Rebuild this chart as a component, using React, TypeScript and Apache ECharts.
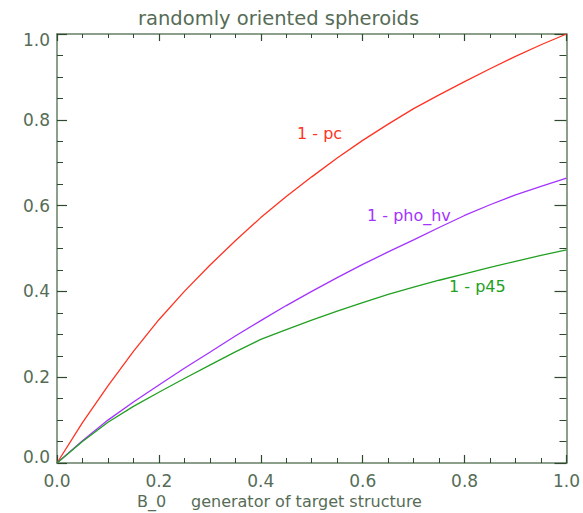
import React, { useEffect, useRef } from "react";
import * as echarts from "echarts";

const xValues = [0, 0.05, 0.1, 0.15, 0.2, 0.25, 0.3, 0.35, 0.4, 0.45, 0.5, 0.55, 0.6, 0.65, 0.7, 0.75, 0.8, 0.85, 0.9, 0.95, 1.0];
const pcValues = [0, 0.094, 0.18, 0.26, 0.334, 0.4, 0.461, 0.518, 0.572, 0.621, 0.667, 0.711, 0.752, 0.79, 0.826, 0.858, 0.889, 0.919, 0.948, 0.975, 1.0];
const phoHvValues = [0, 0.052, 0.1, 0.142, 0.182, 0.221, 0.258, 0.296, 0.332, 0.367, 0.4, 0.432, 0.463, 0.492, 0.52, 0.549, 0.577, 0.602, 0.625, 0.645, 0.664];
const p45Values = [0, 0.05, 0.095, 0.132, 0.165, 0.197, 0.228, 0.259, 0.288, 0.311, 0.333, 0.354, 0.374, 0.393, 0.41, 0.426, 0.441, 0.456, 0.47, 0.484, 0.497];
const seriesNames = ["1 - pc", "1 - pho_hv", "1 - p45"];
const titleText = "randomly oriented spheroids";
const xTitleParts = ["B_0", "generator of target structure"];

const TEXT = "#566c56";
const AXIS = "#657f65";
const TICK = "#2e4a2e";
const RED = "#ff3322";
const PURPLE = "#a433ff";
const GREEN = "#22a022";
const FONT = "DejaVu Sans";

function pairs(ys: number[]) {
  return xValues.map((x, i) => [x, ys[i]]);
}

function axisBase(pos: string, showLabel: boolean, major: number, minor: number, isX: boolean) {
  return {
    type: "value",
    position: pos,
    min: 0,
    max: 1,
    interval: 0.2,
    axisLine: { show: true, onZero: false, lineStyle: { color: AXIS, width: 1.5 } },
    axisTick: { show: true, inside: true, length: major, lineStyle: { color: TICK, width: 1.2 } },
    minorTick: { show: true, splitNumber: 4, length: minor, lineStyle: { color: TICK, width: 1 } },
    splitLine: { show: false },
    minorSplitLine: { show: false },
    axisLabel: isX
      ? {
          show: showLabel,
          formatter: (v: number) => v.toFixed(1),
          fontSize: 17,
          fontFamily: FONT,
          color: TEXT,
          margin: 9,
        }
      : {
          show: showLabel,
          formatter: (v: number) => v.toFixed(1),
          fontSize: 17,
          lineHeight: 12,
          fontFamily: FONT,
          color: TEXT,
          margin: 7,
          verticalAlignMinLabel: "bottom",
          verticalAlignMaxLabel: "top",
        },
  };
}

export default function App() {
  const ref = useRef<HTMLDivElement>(null);
  useEffect(() => {
    if (!ref.current) return;
    const chart = echarts.init(ref.current, undefined, { renderer: "svg" });
    const mk = (name: string, ys: number[], color: string) => ({
      name,
      type: "line",
      data: pairs(ys),
      xAxisIndex: 0,
      yAxisIndex: 0,
      showSymbol: false,
      symbol: "none",
      lineStyle: { color, width: 1.3 },
      itemStyle: { color },
    });
    chart.setOption({
      animation: false,
      backgroundColor: "#ffffff",
      grid: { left: 57, top: 34, right: 14, bottom: 50, containLabel: false },
      xAxis: [axisBase("bottom", true, 8, 5, true), axisBase("top", false, 7, 4, true)],
      yAxis: [axisBase("left", true, 10, 6, false), axisBase("right", false, 12, 7, false)],
      series: [
        mk(seriesNames[0], pcValues, RED),
        mk(seriesNames[1], phoHvValues, PURPLE),
        mk(seriesNames[2], p45Values, GREEN),
      ],
      graphic: [
        {
          type: "text",
          x: 138,
          y: 18,
          style: { text: titleText, fontSize: 19.5, fontFamily: FONT, fill: TEXT, verticalAlign: "middle" },
        },
        {
          type: "text",
          x: 137,
          y: 501,
          style: { text: xTitleParts[0], fontSize: 16, fontFamily: FONT, fill: TEXT, verticalAlign: "middle" },
        },
        {
          type: "text",
          x: 191,
          y: 501,
          style: { text: xTitleParts[1], fontSize: 16, fontFamily: FONT, fill: TEXT, verticalAlign: "middle" },
        },
        {
          type: "text",
          x: 297,
          y: 133,
          style: { text: seriesNames[0], fontSize: 16, fontFamily: FONT, fill: RED, verticalAlign: "middle" },
        },
        {
          type: "text",
          x: 367,
          y: 215,
          style: { text: seriesNames[1], fontSize: 16, fontFamily: FONT, fill: PURPLE, verticalAlign: "middle" },
        },
        {
          type: "text",
          x: 449,
          y: 286,
          style: { text: seriesNames[2], fontSize: 16, fontFamily: FONT, fill: GREEN, verticalAlign: "middle" },
        },
      ],
    });
    return () => chart.dispose();
  }, []);
  return (
    <div
      ref={ref}
      style={{ position: "fixed", left: 0, top: 0, width: 583, height: 513, background: "#fff" }}
    />
  );
}
